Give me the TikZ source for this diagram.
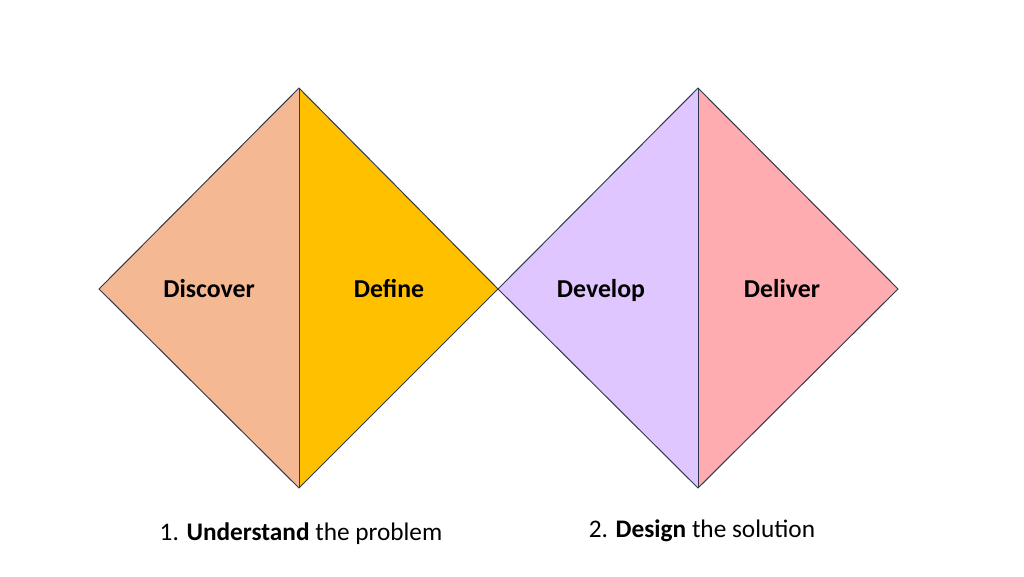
\documentclass[tikz,border=0pt]{standalone}
\usepackage{fontspec}
\setmainfont{Carlito}
\definecolor{cDiscover}{HTML}{F4B993}
\definecolor{cDefine}{HTML}{FFC000}
\definecolor{cDevelop}{HTML}{E0C6FF}
\definecolor{cDeliver}{HTML}{FFACB0}
\definecolor{edge}{HTML}{2E3A4F}
\tikzset{
  tri/.style={draw=edge, line width=1pt, line join=miter},
  phase/.style={font=\fontsize{25.8}{30}\selectfont\bfseries, text=black, anchor=base, inner sep=0pt},
  caption/.style={font=\fontsize{25.3}{30}\selectfont, text=black, anchor=base, inner sep=0pt}
}
\begin{document}
\begin{tikzpicture}[x=1pt,y=-1pt]
\useasboundingbox (0,0) rectangle (1024,576);
\coordinate (L1) at (99,289);
\coordinate (T1) at (299,88);
\coordinate (B1) at (299,488);
\coordinate (M) at (498,289);
\coordinate (T2) at (698,88);
\coordinate (B2) at (698,488);
\coordinate (R2) at (898,289);
\fill[cDiscover] (L1) -- (T1) -- (B1) -- cycle;
\fill[cDefine] (T1) -- (M) -- (B1) -- cycle;
\fill[cDevelop] (M) -- (T2) -- (B2) -- cycle;
\fill[cDeliver] (T2) -- (R2) -- (B2) -- cycle;
\draw[tri] (L1) -- (T1) -- (M) -- (B1) -- cycle;
\draw[tri] (T1) -- (B1);
\draw[tri] (M) -- (T2) -- (R2) -- (B2) -- cycle;
\draw[tri] (T2) -- (B2);
\node[phase] (discover) at (209,297) {Discover};
\node[phase] (define) at (389,297) {Define};
\node[phase] (develop) at (601,297) {Develop};
\node[phase] (deliver) at (782,297) {Deliver};
\node[caption] (cap1) at (301,540) {1. \textbf{Understand} the problem};
\node[caption] (cap2) at (702,537) {2. \textbf{Design} the solution};
\end{tikzpicture}
\end{document}
